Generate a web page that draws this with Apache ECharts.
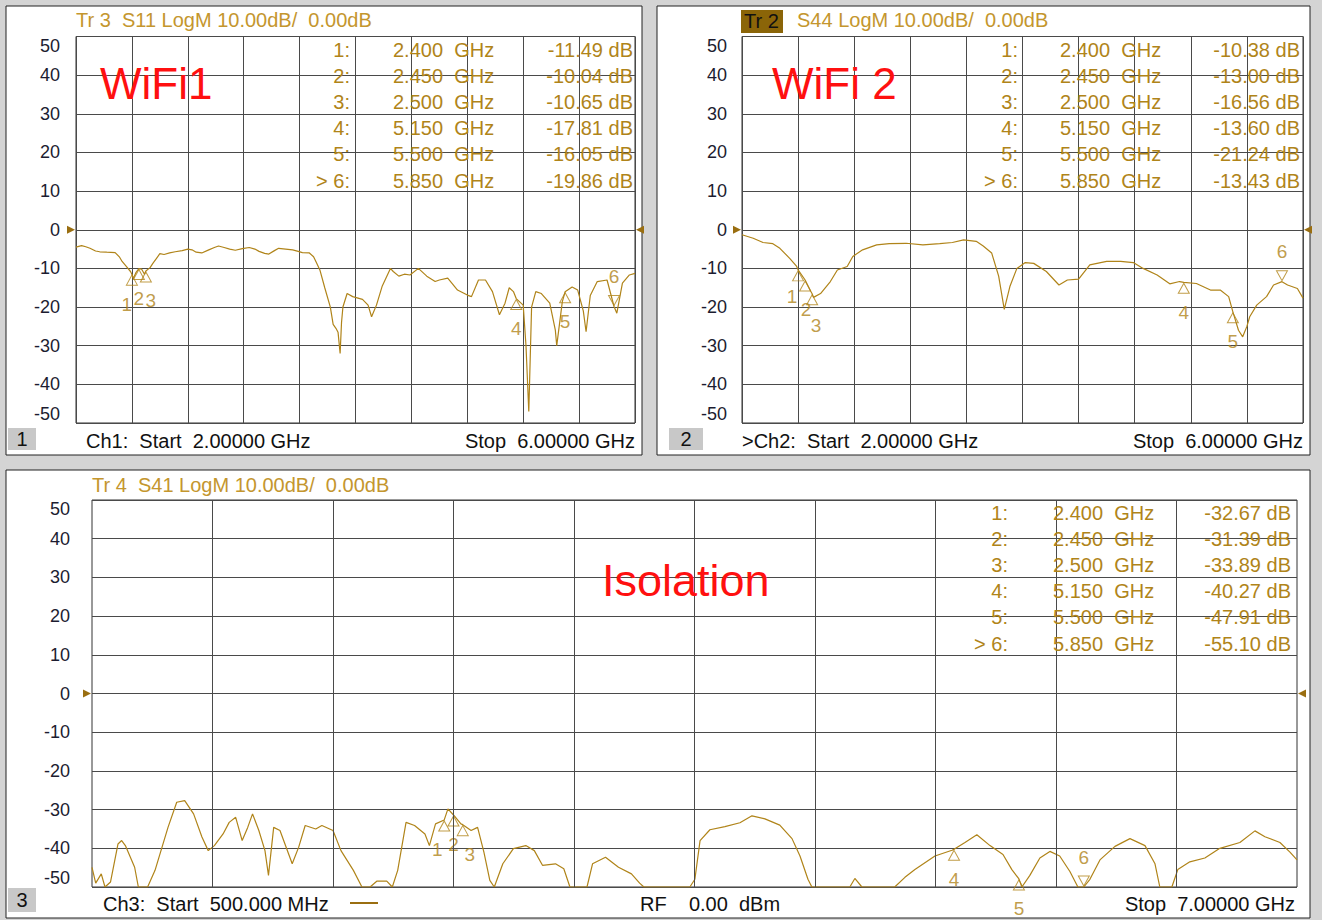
<!DOCTYPE html>
<html>
<head>
<meta charset="utf-8">
<script src="https://cdn.jsdelivr.net/npm/echarts@6/dist/echarts.min.js"></script>
<style>
html,body{margin:0;padding:0;background:#d4d4d4;}
#main{width:1322px;height:920px;}
</style>
</head>
<body>
<div id="main"></div>
<script>
// S11 (WiFi1), 2 - 6 GHz
const s11Freq = [2.00,2.04,2.07,2.10,2.14,2.17,2.22,2.28,2.31,2.33,2.36,2.39,2.40,2.41,2.43,2.45,2.47,2.49,2.50,2.53,2.55,2.58,2.60,2.63,2.67,2.71,2.76,2.80,2.83,2.86,2.90,2.95,2.99,3.02,3.06,3.10,3.14,3.19,3.24,3.28,3.31,3.35,3.38,3.42,3.45,3.50,3.55,3.59,3.62,3.67,3.70,3.72,3.746,3.78,3.82,3.84,3.86,3.875,3.89,3.90,3.91,3.94,3.98,4.05,4.09,4.115,4.15,4.19,4.25,4.27,4.31,4.35,4.39,4.45,4.51,4.57,4.60,4.66,4.73,4.80,4.83,4.88,4.93,4.98,5.03,5.07,5.10,5.13,5.15,5.20,5.22,5.24,5.26,5.29,5.33,5.39,5.43,5.44,5.48,5.50,5.55,5.59,5.63,5.65,5.68,5.73,5.80,5.85,5.87,5.91,5.96,6.00];
const s11Db = [-4.5,-4.1,-4.4,-4.8,-5.5,-5.7,-5.8,-5.9,-7.0,-8.2,-9.5,-10.8,-11.49,-12.6,-11.0,-10.04,-10.2,-11.5,-10.65,-9.8,-8.7,-7.2,-6.2,-6.4,-6.0,-5.7,-5.4,-5.0,-5.2,-5.8,-6.0,-5.2,-4.6,-4.2,-4.6,-5.0,-5.3,-4.9,-4.6,-5.0,-5.6,-6.1,-6.3,-5.4,-4.8,-5.0,-5.2,-5.6,-5.9,-6.0,-7.0,-8.5,-10.5,-15.0,-20.0,-24.5,-25.5,-26.5,-32.0,-24.0,-20.0,-16.5,-17.3,-18.0,-19.5,-22.5,-19.5,-14.7,-10.0,-10.8,-12.0,-11.5,-11.7,-10.0,-12.0,-13.4,-13.0,-12.5,-15.6,-16.9,-17.3,-13.0,-13.0,-16.0,-22.0,-19.0,-15.0,-16.0,-17.81,-19.5,-30.0,-47.0,-20.0,-16.0,-16.5,-19.0,-26.0,-30.0,-18.6,-16.05,-14.8,-15.6,-21.0,-26.4,-17.0,-13.4,-13.0,-19.86,-21.6,-13.8,-11.7,-11.3];

// S44 (WiFi 2), 2 - 6 GHz
const s44Freq = [2.00,2.08,2.15,2.22,2.27,2.34,2.39,2.40,2.45,2.49,2.50,2.51,2.56,2.63,2.68,2.75,2.79,2.86,2.96,3.05,3.17,3.29,3.41,3.50,3.58,3.67,3.72,3.78,3.83,3.87,3.91,3.96,4.02,4.08,4.17,4.26,4.32,4.40,4.48,4.60,4.70,4.79,4.86,4.96,5.05,5.12,5.15,5.24,5.34,5.41,5.47,5.50,5.54,5.57,5.60,5.62,5.67,5.74,5.79,5.85,5.89,5.96,6.00];
const s44Db = [-1.3,-2.2,-3.3,-3.6,-4.8,-7.4,-9.5,-10.38,-13.0,-15.9,-16.56,-17.5,-16.5,-13.4,-10.4,-9.5,-6.9,-5.2,-3.9,-3.6,-3.5,-3.9,-3.6,-3.3,-2.6,-3.0,-4.2,-6.0,-12.0,-20.6,-14.7,-10.0,-8.5,-8.7,-10.8,-14.3,-13.0,-12.8,-9.1,-8.2,-8.2,-8.5,-10.0,-11.7,-14.0,-13.4,-13.6,-13.9,-15.6,-15.6,-17.3,-21.24,-26.0,-27.7,-25.0,-22.5,-19.5,-17.3,-14.3,-13.43,-14.3,-15.2,-17.7];

// S41 (Isolation), 0.5 - 7 GHz
const s41Freq = [0.50,0.52,0.55,0.57,0.60,0.64,0.66,0.68,0.73,0.75,0.80,0.84,0.91,0.957,1.00,1.048,1.093,1.127,1.16,1.207,1.24,1.275,1.31,1.34,1.366,1.40,1.433,1.452,1.48,1.514,1.58,1.615,1.65,1.707,1.74,1.80,1.843,1.91,1.956,2.00,2.036,2.09,2.12,2.149,2.194,2.24,2.296,2.32,2.353,2.40,2.42,2.45,2.49,2.50,2.545,2.58,2.614,2.646,2.67,2.716,2.773,2.84,2.886,2.93,3.00,3.045,3.078,3.17,3.20,3.27,3.34,3.41,3.454,3.477,3.725,3.752,3.78,3.833,3.914,3.995,4.06,4.13,4.21,4.276,4.319,4.362,4.383,4.588,4.615,4.653,4.83,4.885,4.939,5.047,5.139,5.15,5.209,5.273,5.344,5.414,5.462,5.50,5.516,5.559,5.613,5.667,5.72,5.775,5.818,5.85,5.883,5.937,6.018,6.099,6.18,6.234,6.26,6.325,6.357,6.422,6.503,6.584,6.692,6.773,6.827,6.908,6.962,7.00];
const s41Db = [-44.9,-49.0,-46.6,-50.0,-48.7,-38.9,-38.0,-39.3,-44.9,-50.0,-50.0,-45.7,-34.6,-28.1,-27.7,-31.1,-37.1,-40.6,-39.3,-36.3,-33.3,-32.0,-38.0,-34.6,-31.1,-35.4,-40.6,-47.0,-34.6,-35.4,-44.0,-39.7,-34.1,-35.0,-34.1,-35.4,-40.6,-45.7,-50.0,-50.0,-48.5,-48.5,-50.0,-45.7,-33.3,-34.1,-36.3,-39.3,-33.7,-32.67,-29.8,-31.39,-33.7,-33.89,-35.4,-34.6,-41.0,-48.3,-50.0,-44.0,-40.1,-39.3,-40.6,-44.4,-44.0,-45.3,-50.0,-50.0,-44.0,-42.3,-44.9,-46.6,-49.0,-50.0,-50.0,-48.0,-38.0,-35.2,-34.4,-33.4,-31.6,-32.4,-34.0,-37.5,-42.0,-48.0,-50.0,-50.0,-47.8,-50.0,-50.0,-47.5,-45.5,-42.0,-40.5,-40.27,-38.5,-36.5,-39.3,-41.6,-45.5,-47.91,-50.0,-47.0,-42.5,-40.8,-42.0,-46.0,-50.0,-50.0,-48.0,-43.0,-39.5,-37.5,-39.3,-44.0,-50.0,-50.0,-45.5,-43.5,-42.5,-40.0,-38.5,-35.5,-37.0,-38.5,-41.0,-43.0];

// markers
const markerFreq = [2.400,2.450,2.500,5.150,5.500,5.850];
const markerS11 = [-11.49,-10.04,-10.65,-17.81,-16.05,-19.86];
const markerS44 = [-10.38,-13.00,-16.56,-13.60,-21.24,-13.43];
const markerS41 = [-32.67,-31.39,-33.89,-40.27,-47.91,-55.10];

const yMin = -50, yMax = 50, yStep = 10;

const ochre = '#b08419';
const gridCol = '#4a4a4a';
const FONT = '"Liberation Sans", Arial, sans-serif';

// nudges for the crowded 1/2/3 marker numbers, per panel
const labelNudge = [
  [[-5, 0], [0, 0], [5, 0]],
  [[-6, -3], [1, 0], [4, 2]],
  [[-7, 0], [0, 0], [7, 0]]
];

const chart = echarts.init(document.getElementById('main'), null, {renderer: 'svg'});

function pairs(f, d) {
  return f.map((v, i) => [v, d[i]]);
}

function xAx(gi, min, max, split) {
  return {
    gridIndex: gi, type: 'value', min: min, max: max,
    interval: split ? (max - min) / 10 : null,
    axisLabel: {show: false}, axisTick: {show: false}, axisLine: {show: false},
    splitLine: {show: split, lineStyle: {color: gridCol, width: 1}}
  };
}
function yAx(gi, margin) {
  return {
    gridIndex: gi, type: 'value', min: yMin, max: yMax, interval: yStep,
    axisLine: {show: false}, axisTick: {show: false},
    axisLabel: {color: '#1c1c30', fontSize: 18, fontFamily: FONT, margin: margin,
      verticalAlignMaxLabel: 'top', verticalAlignMinLabel: 'bottom'},
    splitLine: {show: true, lineStyle: {color: gridCol, width: 1}}
  };
}

function refArrows(xmin, xmax) {
  return {
    silent: true, animation: false,
    itemStyle: {color: '#9a6e10'},
    label: {show: false},
    data: [
      {coord: [xmin, 0], symbol: 'triangle', symbolRotate: -90, symbolSize: 8, symbolOffset: [-5, 0]},
      {coord: [xmax, 0], symbol: 'triangle', symbolRotate: 90, symbolSize: 8, symbolOffset: [5, 0]}
    ]
  };
}

function traceSeries(gi, f, d, xmin, xmax) {
  return {
    type: 'line', xAxisIndex: gi, yAxisIndex: gi,
    data: pairs(f, d), showSymbol: false, animation: false, clip: true,
    lineStyle: {color: ochre, width: 1.2},
    markPoint: refArrows(xmin, xmax)
  };
}

function markerSeries(gi, vals) {
  return {
    type: 'scatter', xAxisIndex: gi, yAxisIndex: gi, animation: false, clip: false,
    data: markerFreq.map((f, i) => {
      const active = i === 5;
      return {
        value: [f, Math.max(vals[i], yMin)],
        symbol: 'triangle',
        symbolSize: [11, 10],
        symbolRotate: active ? 180 : 0,
        symbolOffset: [0, active ? -6 : 6],
        label: {show: true, formatter: String(i + 1), position: active ? 'top' : 'bottom',
          distance: 9, offset: labelNudge[gi][i] || [0, 0],
          color: ochre, fontSize: 19, fontFamily: FONT}
      };
    }),
    itemStyle: {color: 'rgba(255,255,255,0)', borderColor: ochre, borderWidth: 1}
  };
}

function txt(x, y, s, o) {
  o = o || {};
  const al = o.align || 'left';
  return {
    type: 'text', z: 100, x: x, y: y, silent: true,
    style: {text: s, fill: o.color || '#111', font: (o.size || 20) + 'px ' + FONT,
      align: al, textAlign: al, verticalAlign: 'middle', textVerticalAlign: 'middle'}
  };
}
function box(x, y, w, h, fill, stroke) {
  return {type: 'rect', z: -5, silent: true, shape: {x: x, y: y, width: w, height: h},
    style: {fill: fill, stroke: stroke || null, lineWidth: 1}};
}

function markerTable(vals, idxRight, freqLeft, valRight, y0) {
  const out = [];
  markerFreq.forEach((f, i) => {
    const y = y0 + i * 26.1;
    out.push(txt(idxRight, y, (i === 5 ? '> ' : '') + (i + 1) + ':', {align: 'right', color: ochre}));
    out.push(txt(freqLeft, y, f.toFixed(3) + '\u00a0\u00a0GHz', {color: ochre}));
    out.push(txt(valRight, y, vals[i].toFixed(2) + ' dB', {align: 'right', color: ochre}));
  });
  return out;
}

const sp = '\u00a0\u00a0';
const headCol = '#c4962e';
const graphics = [
  box(6, 6, 636, 449, '#fff', '#222'),
  box(657, 6, 653, 449, '#fff', '#222'),
  box(6, 470, 1304, 448, '#fff', '#222'),
  // headers
  txt(76, 20, 'Tr 3' + sp + 'S11 LogM 10.00dB/' + sp + '0.00dB', {color: headCol}),
  {type: 'rect', z: 90, silent: true, shape: {x: 741, y: 10, width: 42, height: 23}, style: {fill: '#8b6508'}},
  txt(744, 21, 'Tr 2', {color: '#111'}),
  txt(797, 20, 'S44 LogM 10.00dB/' + sp + '0.00dB', {color: headCol}),
  txt(92, 485, 'Tr 4' + sp + 'S41 LogM 10.00dB/' + sp + '0.00dB', {color: headCol}),
  // footers
  {type: 'rect', z: 90, silent: true, shape: {x: 8, y: 428, width: 28, height: 22}, style: {fill: '#c8c8c8'}},
  txt(22, 439, '1', {align: 'center'}),
  txt(86, 441, 'Ch1:' + sp + 'Start' + sp + '2.00000 GHz'),
  txt(635, 441, 'Stop' + sp + '6.00000 GHz', {align: 'right'}),
  {type: 'rect', z: 90, silent: true, shape: {x: 669, y: 428, width: 34, height: 22}, style: {fill: '#c8c8c8'}},
  txt(686, 439, '2', {align: 'center'}),
  txt(742, 441, '>Ch2:' + sp + 'Start' + sp + '2.00000 GHz'),
  txt(1303, 441, 'Stop' + sp + '6.00000 GHz', {align: 'right'}),
  {type: 'rect', z: 90, silent: true, shape: {x: 8, y: 888, width: 28, height: 24}, style: {fill: '#c8c8c8'}},
  txt(22, 900, '3', {align: 'center'}),
  txt(103, 904, 'Ch3:' + sp + 'Start' + sp + '500.000 MHz'),
  {type: 'line', z: 90, silent: true, shape: {x1: 350, y1: 903, x2: 378, y2: 903}, style: {stroke: '#9a6e10', lineWidth: 2}},
  txt(640, 904, 'RF' + sp + sp + '0.00' + sp + 'dBm'),
  txt(1295, 904, 'Stop' + sp + '7.00000 GHz', {align: 'right'}),
  // annotations
  txt(100, 83, 'WiFi1', {color: '#ff1010', size: 44}),
  txt(772, 83, 'WiFi 2', {color: '#ff1010', size: 44}),
  txt(602, 580, 'Isolation', {color: '#ff1010', size: 45})
].concat(
  markerTable(markerS11, 350, 393, 633, 50),
  markerTable(markerS44, 1018, 1060, 1300, 50),
  markerTable(markerS41, 1008, 1053, 1291, 513)
);

// vertical division lines for the 0.5-7 GHz grid
const isoDivs = [];
for (let i = 1; i < 10; i++) isoDivs.push({xAxis: 0.5 + 0.65 * i});

const isoTrace = traceSeries(2, s41Freq, s41Db, 0.5, 7);
isoTrace.markLine = {
  silent: true, animation: false, symbol: 'none', label: {show: false},
  lineStyle: {color: gridCol, width: 1, type: 'solid'},
  data: isoDivs
};

chart.setOption({
  backgroundColor: '#d4d4d4',
  animation: false,
  grid: [
    {left: 76, top: 36.5, width: 559, height: 386.5, show: true, backgroundColor: '#fff', borderColor: '#333', borderWidth: 1},
    {left: 742, top: 36.5, width: 561, height: 386.5, show: true, backgroundColor: '#fff', borderColor: '#333', borderWidth: 1},
    {left: 92, top: 500, width: 1205, height: 387, show: true, backgroundColor: '#fff', borderColor: '#333', borderWidth: 1}
  ],
  xAxis: [xAx(0, 2, 6, true), xAx(1, 2, 6, true), xAx(2, 0.5, 7, false)],
  yAxis: [yAx(0, 16), yAx(1, 15), yAx(2, 22)],
  series: [
    traceSeries(0, s11Freq, s11Db, 2, 6),
    traceSeries(1, s44Freq, s44Db, 2, 6),
    isoTrace,
    markerSeries(0, markerS11),
    markerSeries(1, markerS44),
    markerSeries(2, markerS41)
  ],
  graphic: graphics
});
</script>
</body>
</html>
